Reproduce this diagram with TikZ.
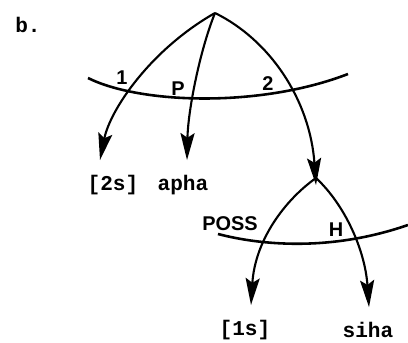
\documentclass[tikz,border=0pt]{standalone}
\usepackage{fontspec}
\setmonofont{Liberation Mono}
\setsansfont{Liberation Sans}
\usetikzlibrary{arrows.meta, positioning}
\tikzset{
  every picture/.style={line width=1.8pt},
  word/.style={font=\ttfamily\bfseries\fontsize{18}{18}\selectfont, inner sep=0pt},
  lab/.style={font=\sffamily\bfseries\fontsize{17}{17}\selectfont, inner sep=0pt},
  arrow/.style={-{Stealth[length=23pt, width=12pt, inset=4pt]}},
  bar/.style={line width=2.2pt},
}
\begin{document}
\begin{tikzpicture}[x=0.03cm, y=-0.03cm]
  \useasboundingbox (0,0) rectangle (408,343);
  \node[word] (tag) at (28,25) {b.};
  % upper tree
  \coordinate (top) at (215,13);
  \node[word] (w2s) at (113,185) {[2s]};
  \node[word] (apha) at (183,185) {apha};
  \coordinate (sub) at (316,178);
  \draw[bar] (88,78) .. controls (140,104) and (260,108) .. (348,74);
  \draw[arrow] (top) .. controls (150,50) and (110,110) .. ([yshift=12] w2s.north -| 100,0);
  \draw[arrow] (top) .. controls (200,50) and (188,110) .. ([yshift=12] apha.north -| 187,0);
  \draw[arrow] (top) .. controls (270,40) and (310,100) .. ([yshift=-6] sub);
  \node[lab] (l1) at (122,78) {1};
  \node[lab] (lp) at (178,89) {P};
  \node[lab] (l2) at (268,84) {2};
  % lower tree
  \node[word] (w1s) at (245,330) {[1s]};
  \node[word] (siha) at (368,330) {siha};
  \draw[bar] (218,234) .. controls (260,245) and (330,252) .. (408,225);
  \draw[arrow] (sub) .. controls (285,200) and (255,240) .. ([yshift=12] w1s.north -| 251,0);
  \draw[arrow] (sub) .. controls (345,205) and (365,250) .. ([yshift=12] siha.north -| 369,0);
  \node[lab] (lposs) at (230,224) {POSS};
  \node[lab] (lh) at (336,230) {H};
\end{tikzpicture}
\end{document}
